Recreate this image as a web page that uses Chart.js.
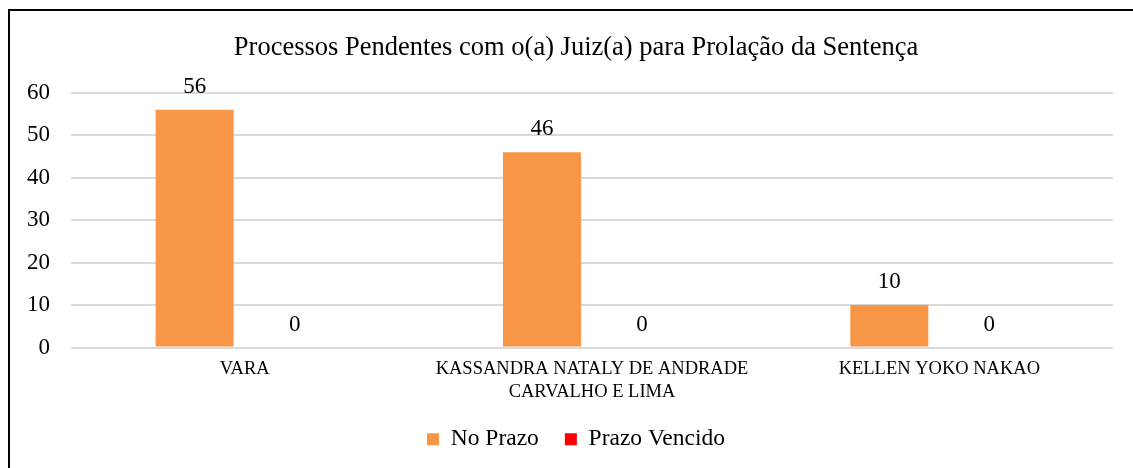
<!DOCTYPE html>
<html>
<head>
<meta charset="utf-8">
<script src="https://cdn.jsdelivr.net/npm/chart.js@4/dist/chart.umd.min.js"></script>
<style>
  html, body { margin: 0; padding: 0; overflow: hidden; background: #fff; }
  #frame { position: absolute; left: 8px; top: 9px; border: 2px solid #000; width: 1132px; height: 470px; }
</style>
</head>
<body>
<div id="frame"><canvas id="chart" width="1132" height="450"></canvas></div>
<script>
const categories = ['VARA', ['KASSANDRA NATALY DE ANDRADE', 'CARVALHO E LIMA'], 'KELLEN YOKO NAKAO'];
const noPrazo = [56, 46, 10];
const prazoVencido = [0, 0, 0];
const yTicks = [0, 10, 20, 30, 40, 50, 60];

const serif = '"Liberation Serif", "Times New Roman", serif';
Chart.defaults.color = '#000';
Chart.defaults.font.family = serif;

const barLabels = {
    id: 'barLabels',
    afterDatasetsDraw(chart) {
        const ctx = chart.ctx;
        ctx.save();
        ctx.font = '23px ' + serif;
        ctx.fillStyle = '#000';
        ctx.textAlign = 'center';
        ctx.textBaseline = 'middle';
        chart.data.datasets.forEach((ds, i) => {
            chart.getDatasetMeta(i).data.forEach((bar, j) => {
                ctx.fillText(ds.data[j], bar.x, bar.y - 23);
            });
        });
        ctx.restore();
    }
};

new Chart(document.getElementById('chart'), {
    type: 'bar',
    data: {
        labels: categories,
        datasets: [
            { label: 'No Prazo', data: noPrazo, backgroundColor: '#F79646' },
            { label: 'Prazo Vencido', data: prazoVencido, backgroundColor: '#FF0000' }
        ]
    },
    options: {
        responsive: false,
        animation: false,
        categoryPercentage: 0.576,
        barPercentage: 0.78,
        layout: { padding: 0 },
        scales: {
            x: {
                grid: { display: false, drawTicks: false },
                border: { display: false },
                ticks: { padding: 11, maxRotation: 0, font: { size: 18.5 } },
                afterFit: s => { s.height = 54; }
            },
            y: {
                min: 0,
                max: 60,
                afterBuildTicks: s => { s.ticks = yTicks.map(v => ({ value: v })); },
                grid: { color: '#d9d9d9', lineWidth: 2, drawTicks: false },
                border: { display: false },
                ticks: { padding: 21, font: { size: 23 } },
                afterFit: s => { s.width = 61; }
            },
            yRight: {
                position: 'right',
                grid: { display: false },
                border: { display: false },
                ticks: { display: false },
                afterFit: s => { s.width = 29; }
            }
        },
        plugins: {
            tooltip: { enabled: false },
            title: {
                display: true,
                text: 'Processos Pendentes com o(a) Juiz(a) para Prolação da Sentença',
                font: { size: 26.5, weight: 'normal' },
                padding: { top: 21, bottom: 29 }
            },
            legend: {
                position: 'bottom',
                labels: { boxWidth: 12, boxHeight: 12, padding: 26, font: { size: 23.5 } }
            }
        }
    },
    plugins: [barLabels]
});
</script>
</body>
</html>
